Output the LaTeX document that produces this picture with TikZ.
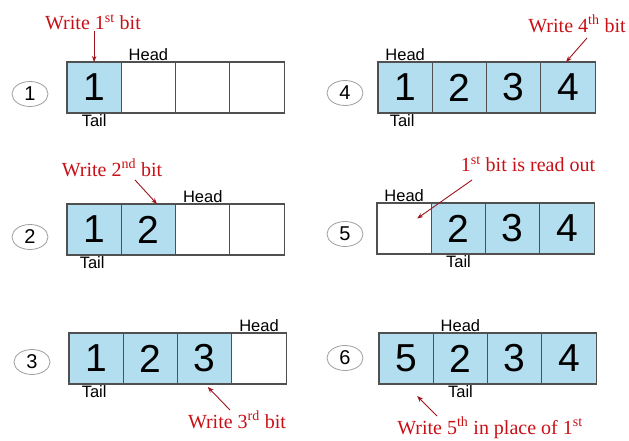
\documentclass[tikz,border=0pt]{standalone}
\usepackage{fontspec}
\setmainfont{Liberation Serif}
\setsansfont{Liberation Sans}
\usetikzlibrary{arrows.meta,shapes.geometric}
\definecolor{cellblue}{RGB}{178,222,240}
\definecolor{cellline}{RGB}{80,80,80}
\definecolor{notered}{RGB}{200,16,22}
\definecolor{arrowred}{RGB}{160,20,30}
\begin{document}
\begin{tikzpicture}[x=1pt,y=-1pt,
  cell/.style={draw=cellline, line width=1.1pt, minimum width=54.3pt,
    minimum height=51pt, inner sep=0pt, outer sep=0pt,
    font=\sffamily\fontsize{39}{39}\selectfont},
  full/.style={cell, fill=cellblue},
  blank/.style={cell, fill=white},
  stepnum/.style={ellipse, draw=gray!75, line width=0.8pt, minimum width=36pt,
    minimum height=25pt, inner sep=0pt, font=\sffamily\fontsize{20}{20}\selectfont},
  ptr/.style={font=\sffamily\fontsize{16.5}{16.5}\selectfont, inner sep=1.5pt},
  note/.style={text=notered, font=\fontsize{20}{20}\selectfont, inner sep=1pt},
  redarrow/.style={draw=arrowred, line width=0.9pt, -{Stealth[length=6pt,width=4.5pt]}}]

\fill[white] (0,0) rectangle (629,441);
\useasboundingbox (0,0) rectangle (629,441);

% ---------- step 1 ----------
\node[stepnum] (s1) at (30,94) {1};
\begin{scope}[shift={(67,62)}]
  \node[full]  (p1a) at (27.15,25.5) {1};
  \node[blank] (p1b) at (81.45,25.5) {};
  \node[blank] (p1c) at (135.75,25.5) {};
  \node[blank] (p1d) at (190.05,25.5) {};
\end{scope}
\node[ptr, anchor=south] (h1) at (p1b.north) {Head};
\node[ptr, anchor=north] (t1) at (p1a.south) {Tail};
\node[note] (w1) at (93,22) {Write 1\textsuperscript{st} bit};
\draw[redarrow] (w1.south -| p1a.north) -- (p1a.north);

% ---------- step 2 ----------
\node[stepnum] (s2) at (30,237) {2};
\begin{scope}[shift={(67,204)}]
  \node[full]  (p2a) at (27.15,25.5) {1};
  \node[full]  (p2b) at (81.45,25.5) {2};
  \node[blank] (p2c) at (135.75,25.5) {};
  \node[blank] (p2d) at (190.05,25.5) {};
\end{scope}
\node[ptr, anchor=south] (h2) at (p2c.north) {Head};
\node[ptr, anchor=north] (t2) at ([xshift=-2pt]p2a.south) {Tail};
\node[note] (w2) at (112,168) {Write 2\textsuperscript{nd} bit};
\draw[redarrow] ([xshift=23pt,yshift=-2pt]w2.south) -- ([xshift=8.5pt]p2b.north);

% ---------- step 3 ----------
\node[stepnum] (s3) at (32,362) {3};
\begin{scope}[shift={(69,333)}]
  \node[full]  (p3a) at (27.15,25.5) {1};
  \node[full]  (p3b) at (81.45,25.5) {2};
  \node[full]  (p3c) at (135.75,25.5) {3};
  \node[blank] (p3d) at (190.05,25.5) {};
\end{scope}
\node[ptr, anchor=south] (h3) at (p3d.north) {Head};
\node[ptr, anchor=north] (t3) at ([xshift=-2pt]p3a.south) {Tail};
\node[note] (w3) at (237,420) {Write 3\textsuperscript{rd} bit};
\draw[redarrow] ([xshift=-7pt]w3.north) -- ([xshift=3pt,yshift=-3pt]p3c.south);

% ---------- step 4 ----------
\node[stepnum] (s4) at (345,93) {4};
\begin{scope}[shift={(378,62)}]
  \node[full] (p4a) at (27.15,25.5) {1};
  \node[full] (p4b) at (81.45,25.5) {2};
  \node[full] (p4c) at (135.75,25.5) {3};
  \node[full] (p4d) at (190.05,25.5) {4};
\end{scope}
\node[ptr, anchor=south] (h4) at (p4a.north) {Head};
\node[ptr, anchor=north] (t4) at ([xshift=-3pt]p4a.south) {Tail};
\node[note] (w4) at (577,24) {Write 4\textsuperscript{th} bit};
\draw[redarrow] ([xshift=10pt,yshift=-4pt]w4.south) -- ([xshift=-2pt]p4d.north);

% ---------- step 5 ----------
\node[stepnum] (s5) at (345,234) {5};
\begin{scope}[shift={(377,203)}]
  \node[blank] (p5a) at (27.15,25.5) {};
  \node[full]  (p5b) at (81.45,25.5) {2};
  \node[full]  (p5c) at (135.75,25.5) {3};
  \node[full]  (p5d) at (190.05,25.5) {4};
\end{scope}
\node[ptr, anchor=south] (h5) at (p5a.north) {Head};
\node[ptr, anchor=north] (t5) at (p5b.south) {Tail};
\node[note] (w5) at (528,164) {1\textsuperscript{st} bit is read out};
\draw[redarrow] ([xshift=-56pt,yshift=-7pt]w5.south) -- ([xshift=13pt,yshift=10pt]p5a.center);

% ---------- step 6 ----------
\node[stepnum] (s6) at (345,358) {6};
\begin{scope}[shift={(379,333)}]
  \node[full] (p6a) at (27.15,25.5) {5};
  \node[full] (p6b) at (81.45,25.5) {2};
  \node[full] (p6c) at (135.75,25.5) {3};
  \node[full] (p6d) at (190.05,25.5) {4};
\end{scope}
\node[ptr, anchor=south] (h6) at (p6b.north) {Head};
\node[ptr, anchor=north] (t6) at (p6b.south) {Tail};
\node[note] (w6) at (490,428) {Write 5\textsuperscript{th} in place of 1\textsuperscript{st}};
\draw[redarrow] ([xshift=-53pt]w6.north) -- ([xshift=11pt,yshift=-12pt]p6a.south);

\end{tikzpicture}
\end{document}
